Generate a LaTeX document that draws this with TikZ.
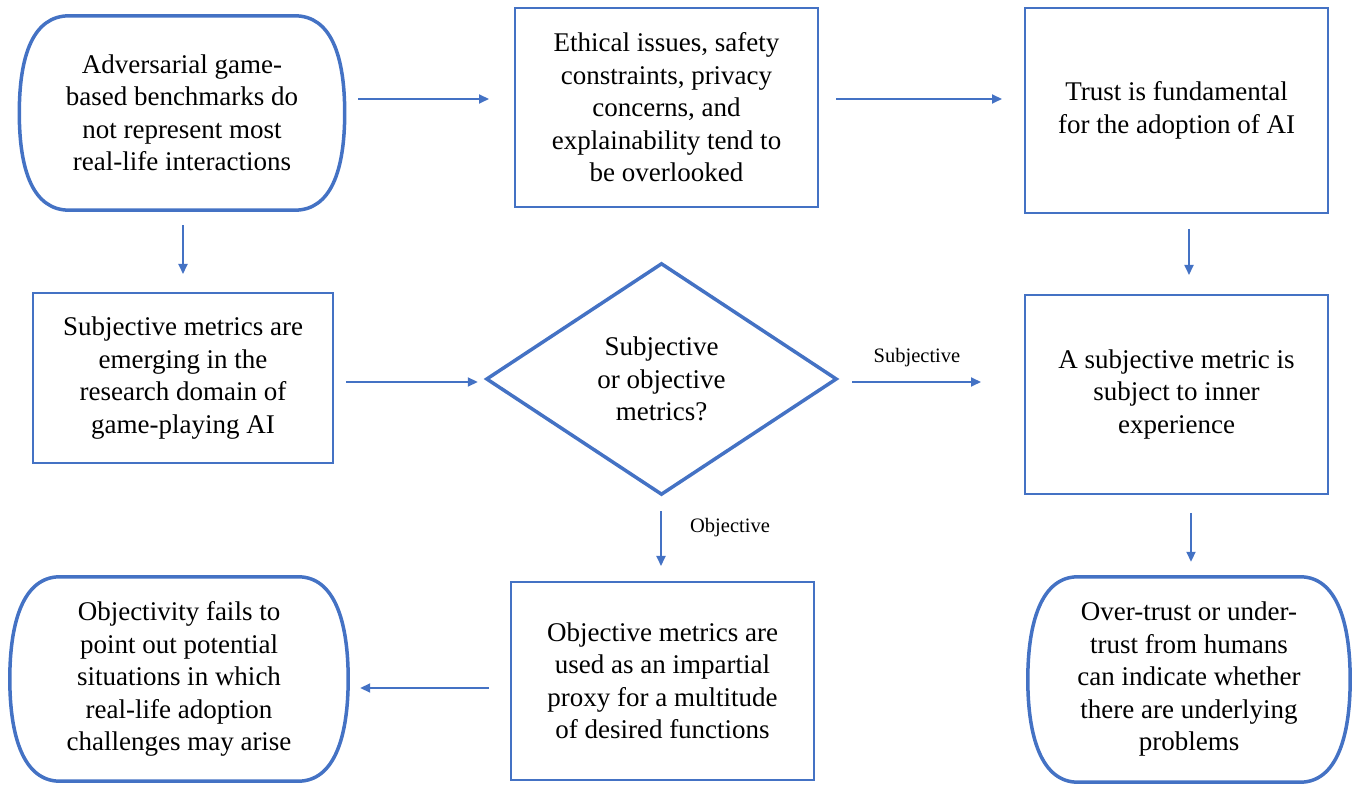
\documentclass[tikz,border=0pt]{standalone}
\usepackage{fontspec}
\setmainfont{Liberation Serif}
\newfontfamily\boxfont{Liberation Serif}
\usetikzlibrary{arrows.meta}
\definecolor{frameblue}{RGB}{68,114,196}
\newcommand{\termline}[1]{%
  \draw[termline] ([xshift=50pt]#1.north west) -- ([xshift=-50pt]#1.north east)
    .. controls ([xshift=-14pt]#1.north east) and ([yshift=58pt]#1.east) .. (#1.east)
    .. controls ([yshift=-58pt]#1.east) and ([xshift=-14pt]#1.south east) .. ([xshift=-50pt]#1.south east)
    -- ([xshift=50pt]#1.south west)
    .. controls ([xshift=14pt]#1.south west) and ([yshift=-58pt]#1.west) .. (#1.west)
    .. controls ([yshift=58pt]#1.west) and ([xshift=14pt]#1.north west) .. cycle;}
\tikzset{
  txt/.style={align=center, font=\boxfont\fontsize{27}{32.5}\selectfont, inner sep=0pt, text=black},
  boxnode/.style={txt, draw=frameblue, line width=2pt, rectangle},
  termnode/.style={txt, rectangle},
  termline/.style={draw=frameblue, line width=3.5pt, line join=round},
  decline/.style={draw=frameblue, line width=3.5pt, line join=miter},
  arr/.style={draw=frameblue, line width=1.8pt, -{Triangle[length=10pt,width=9pt]}},
  lbl/.style={font=\boxfont\fontsize{20.5}{22}\selectfont, text=black, inner sep=0pt}
}
\begin{document}
\begin{tikzpicture}[x=1pt,y=1pt]
\useasboundingbox (0,0) rectangle (1355,785);
% nodes
\node[termnode, minimum width=325pt, minimum height=194pt] (A) at (182,672)
  {Adversarial game-\\based benchmarks do\\not represent most\\real-life interactions};
\node[boxnode, minimum width=303pt, minimum height=199pt] (B) at (666.5,677.5)
  {Ethical issues, safety\\constraints, privacy\\concerns, and\\explainability tend to\\be overlooked};
\node[boxnode, minimum width=303pt, minimum height=205pt] (C) at (1176.5,674.5)
  {Trust is fundamental\\for the adoption of AI};
\node[boxnode, minimum width=300pt, minimum height=170pt] (D) at (183,407)
  {Subjective metrics are\\emerging in the\\research domain of\\game-playing AI};
\node[termnode, minimum width=349pt, minimum height=230pt] (E) at (661.5,406)
  {Subjective\\or objective\\metrics?};
\node[boxnode, minimum width=303pt, minimum height=199pt] (F) at (1176.5,390.5)
  {A subjective metric is\\subject to inner\\experience};
\node[termnode, minimum width=338pt, minimum height=204pt] (G) at (179,106)
  {Objectivity fails to\\point out potential\\situations in which\\real-life adoption\\challenges may arise};
\node[boxnode, minimum width=303pt, minimum height=198pt] (H) at (662.5,104)
  {Objective metrics are\\used as an impartial\\proxy for a multitude\\of desired functions};
\node[termnode, minimum width=322pt, minimum height=205pt] (I) at (1189,105.5)
  {Over-trust or under-\\trust from humans\\can indicate whether\\there are underlying\\problems};
% outlines
\termline{A}
\termline{G}
\termline{I}
\draw[decline] (E.north) -- (E.east) -- (E.south) -- (E.west) -- cycle;
% connectors
\draw[arr] ([xshift=13.5pt,yshift=14pt]A.east) -- ([xshift=-25pt,yshift=8.5pt]B.west);
\draw[arr] ([xshift=17pt,yshift=8.5pt]B.east) -- ([xshift=-22pt,yshift=11.5pt]C.west);
\draw[arr] ([xshift=1pt,yshift=-15pt]A.south) -- ([yshift=18pt]D.north);
\draw[arr] ([xshift=12.5pt,yshift=-15pt]C.south) -- ([xshift=12.5pt,yshift=19pt]F.north);
\draw[arr] ([xshift=12pt,yshift=-4pt]D.east) -- ([xshift=-9pt,yshift=-3pt]E.west);
\draw[arr] ([xshift=16pt,yshift=-3pt]E.east) -- ([xshift=-43pt,yshift=12.5pt]F.west);
\draw[arr] ([xshift=-0.5pt,yshift=-17pt]E.south) -- ([xshift=-1.5pt,yshift=15pt]H.north);
\draw[arr] ([xshift=-21pt,yshift=-7pt]H.west) -- ([xshift=12pt,yshift=-9pt]G.east);
\draw[arr] ([xshift=14.5pt,yshift=-18pt]F.south) -- ([xshift=2pt,yshift=15pt]I.north);
% labels
\node[lbl] (subj) at (917,427) {Subjective};
\node[lbl] (obj) at (730,257) {Objective};
\end{tikzpicture}
\end{document}
